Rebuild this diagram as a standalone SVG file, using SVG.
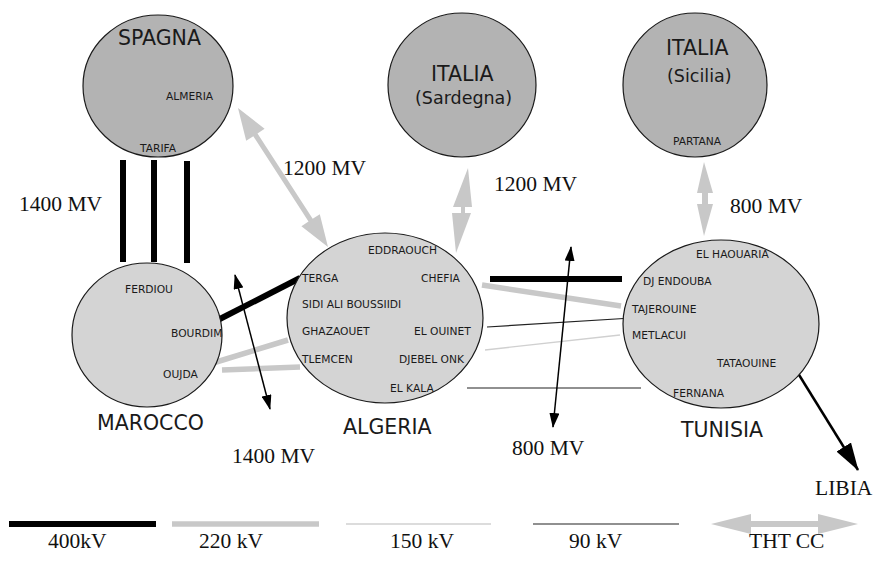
<svg xmlns="http://www.w3.org/2000/svg" width="876" height="564" viewBox="0 0 876 564">
<style>
.dark{fill:#b3b3b3;stroke:#1a1a1a;stroke-width:1.2}
.light{fill:#d4d4d4;stroke:#1a1a1a;stroke-width:1.2}
.st{font-family:"DejaVu Sans",Verdana,sans-serif;font-size:10.7px;fill:#1a1a1a}
.big{font-family:"DejaVu Sans",Verdana,sans-serif;font-size:20.5px;fill:#1a1a1a}
.sub{font-family:"DejaVu Sans",Verdana,sans-serif;font-size:17.5px;fill:#1a1a1a}
.ser{font-family:"Liberation Serif","Times New Roman",serif;font-size:21.5px;fill:#111}
.k400{stroke:#000;stroke-width:6;fill:none}
.k220{stroke:#c8c8c8;stroke-width:5.5;fill:none}
.k150{stroke:#d0d0d0;stroke-width:1.3;fill:none}
.k90{stroke:#222;stroke-width:1.2;fill:none}
.cc{fill:#c8c8c8;stroke:none}
.thin{stroke:#000;stroke-width:1.5;fill:none}
</style>
<defs>
<marker id="ah" viewBox="0 0 15 10" refX="14" refY="5" markerWidth="15" markerHeight="10" markerUnits="userSpaceOnUse" orient="auto-start-reverse">
<path d="M0,0 L15,5 L0,10 z" fill="#000"/>
</marker>
<marker id="ahL" viewBox="0 0 28 17" refX="27" refY="8.5" markerWidth="28" markerHeight="17" markerUnits="userSpaceOnUse" orient="auto">
<path d="M0,0 L28,8.5 L0,17 z" fill="#000"/>
</marker>
</defs>
<rect width="876" height="564" fill="#fff"/>

<g id="connectors">
<line class="k400" x1="123" y1="160" x2="123" y2="262"/>
<line class="k400" x1="154" y1="160" x2="154" y2="262"/>
<line class="k400" x1="187" y1="161" x2="187" y2="263"/>
<polygon class="cc" points="238,108 264.6,128.8 257.5,133.4 312.7,218.8 319.8,214.2 328,247 301.4,226.2 308.5,221.6 253.3,136.2 246.2,140.8"/>
<polygon class="cc" points="468,168 472,207 465,207 465,213 471,213 456,253 452,213 461,213 461,207 453,207"/>
<polygon class="cc" points="704,162 713,193 708,193 708,204 713,204 704,236 697,204 702,204 702,193 697,193"/>
<line class="k400" x1="212" y1="323" x2="300" y2="278"/>
<line class="k220" x1="213" y1="363" x2="288" y2="340"/>
<line class="k220" x1="222" y1="370" x2="300" y2="367"/>
<line class="thin" x1="235" y1="275" x2="270" y2="409" marker-start="url(#ah)" marker-end="url(#ah)"/>
<line class="k400" x1="490" y1="279" x2="622" y2="279"/>
<line class="k220" x1="482" y1="285" x2="621" y2="306"/>
<line class="k90" x1="487" y1="327" x2="632" y2="318"/>
<line class="k150" x1="485" y1="350" x2="620" y2="335"/>
<line class="k90" x1="467" y1="388" x2="641" y2="388"/>
<line class="thin" x1="571" y1="247" x2="553" y2="427" marker-start="url(#ah)" marker-end="url(#ah)"/>
<line stroke="#000" stroke-width="2.5" x1="796" y1="370" x2="858" y2="470" marker-end="url(#ahL)"/>
<text class="ser" x="19" y="211">1400 MV</text>
<text class="ser" x="283" y="175">1200 MV</text>
<text class="ser" x="494" y="191">1200 MV</text>
<text class="ser" x="730" y="213">800 MV</text>
<text class="ser" x="232" y="463">1400 MV</text>
<text class="ser" x="512" y="455">800 MV</text>
</g>

<g id="spagna">
<ellipse class="dark" cx="158" cy="86" rx="75" ry="71"/>
<text class="big" x="118" y="45">SPAGNA</text>
<text class="st" x="166" y="100">ALMERIA</text>
<text class="st" x="140" y="152">TARIFA</text>
</g>

<g id="sardegna">
<ellipse class="dark" cx="462" cy="85" rx="74" ry="72"/>
<text class="big" x="431" y="81">ITALIA</text>
<text class="sub" x="415" y="104">(Sardegna)</text>
</g>

<g id="sicilia">
<ellipse class="dark" cx="695" cy="85" rx="72" ry="72"/>
<text class="big" x="666" y="55">ITALIA</text>
<text class="sub" x="667" y="82">(Sicilia)</text>
<text class="st" x="673" y="145">PARTANA</text>
</g>

<g id="marocco">
<ellipse class="light" cx="147" cy="335" rx="75" ry="72"/>
<text class="st" x="125" y="293">FERDIOU</text>
<text class="st" x="171" y="337">BOURDIM</text>
<text class="st" x="163" y="378">OUJDA</text>
<text class="big" x="97" y="430">MAROCCO</text>
</g>

<g id="algeria">
<ellipse class="light" cx="385" cy="318" rx="98" ry="85"/>
<text class="st" x="368" y="254">EDDRAOUCH</text>
<text class="st" x="302" y="282">TERGA</text>
<text class="st" x="421" y="282">CHEFIA</text>
<text class="st" x="302" y="308">SIDI ALI BOUSSIIDI</text>
<text class="st" x="302" y="335">GHAZAOUET</text>
<text class="st" x="414" y="335">EL OUINET</text>
<text class="st" x="302" y="363">TLEMCEN</text>
<text class="st" x="399" y="363">DJEBEL ONK</text>
<text class="st" x="390" y="392">EL KALA</text>
<text class="big" x="343" y="434">ALGERIA</text>
</g>

<g id="tunisia">
<ellipse class="light" cx="721" cy="324" rx="98" ry="84"/>
<text class="st" x="696" y="258">EL HAOUARIA</text>
<text class="st" x="643" y="285">DJ ENDOUBA</text>
<text class="st" x="632" y="313">TAJEROUINE</text>
<text class="st" x="632" y="339">METLACUI</text>
<text class="st" x="717" y="367">TATAOUINE</text>
<text class="st" x="673" y="397">FERNANA</text>
<text class="big" x="681" y="437">TUNISIA</text>
</g>

<g id="libia">
<text class="ser" x="815" y="495">LIBIA</text>
</g>

<g id="legend">
<line class="k400" x1="9" y1="524" x2="156" y2="524"/>
<line class="k220" x1="172" y1="524" x2="319" y2="524"/>
<line class="k150" x1="346" y1="524" x2="491" y2="524"/>
<line class="k90" x1="533" y1="524" x2="679" y2="524" stroke-width="1.6"/>
<polygon class="cc" points="711,524 751,514 751,521 818,521 818,514 858,524 818,534 818,527 751,527 751,534"/>
<text class="ser" x="48" y="548">400kV</text>
<text class="ser" x="199" y="548">220 kV</text>
<text class="ser" x="390" y="548">150 kV</text>
<text class="ser" x="569" y="548">90 kV</text>
<text class="ser" x="749" y="548">THT CC</text>
</g>
</svg>
